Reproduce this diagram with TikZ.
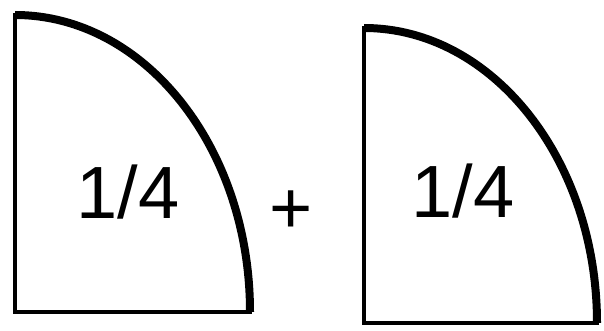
\documentclass[tikz,border=0pt]{standalone}
\usepackage{fontspec}
\setmainfont{Liberation Sans}
\begin{document}
\begin{tikzpicture}[x=1pt,y=1pt,
  edge/.style={line width=4.5pt,line cap=rect},
  curve/.style={line width=8pt,line cap=butt},
  lbl/.style={inner sep=0pt,font=\fontsize{74}{80}\selectfont}]
\useasboundingbox (0,0) rectangle (604,330);
% left quarter
\coordinate (ltop) at (15,315);
\coordinate (lcor) at (15,18);
\coordinate (lend) at (250,18);
\draw[edge] (ltop) -- (lcor) -- (lend);
\draw[curve] (ltop) arc[start angle=90,end angle=0,x radius=235,y radius=297];
% right quarter
\coordinate (rtop) at (364,302);
\coordinate (rcor) at (364,7);
\coordinate (rend) at (597,7);
\draw[edge] (rtop) -- (rcor) -- (rend);
\draw[curve] (rtop) arc[start angle=90,end angle=0,x radius=233,y radius=295];
% texts
\node[lbl,anchor=base] (lt) at (128,112) {1/4};
\node[lbl,anchor=base] (rt) at (463,113) {1/4};
\node[lbl,anchor=center] (plus) at (291,118) {+};
\end{tikzpicture}
\end{document}
